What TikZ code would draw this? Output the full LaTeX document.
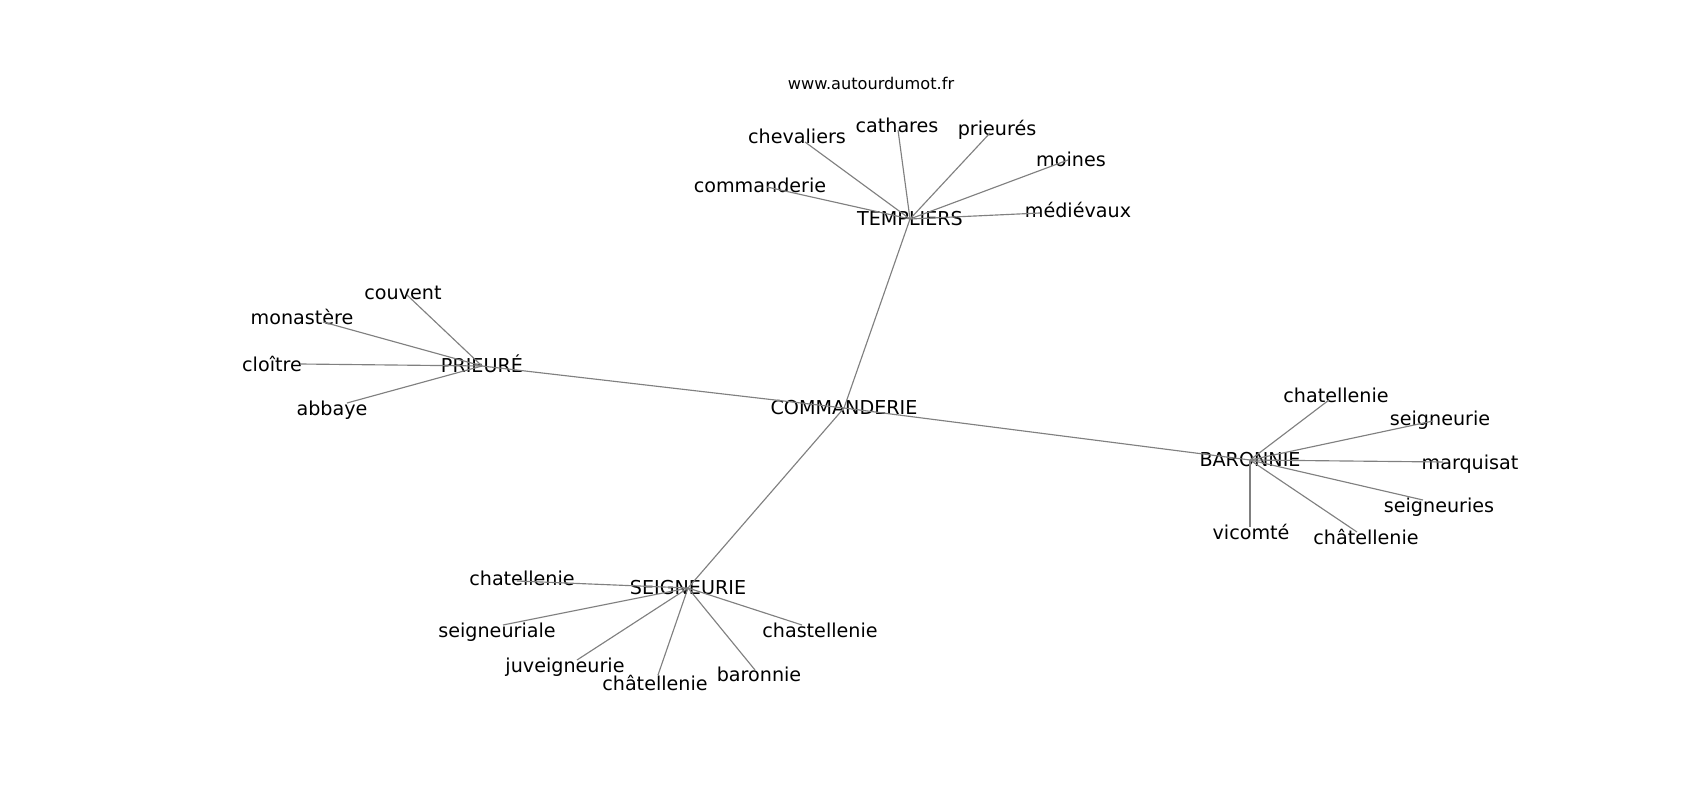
\documentclass[tikz,border=0pt]{standalone}
\usepackage{fontspec}
\setmainfont{DejaVu Sans}
\usepackage{tikz}
\tikzset{word/.style={inner sep=0pt, text height=0.75em, text depth=0pt,
    font=\fontsize{10.9}{13}\selectfont, yshift=-0.04cm},
  link/.style={draw=gray, line width=0.65pt}}

\begin{document}
\begin{tikzpicture}[x=0.02cm, y=-0.02cm]
    \useasboundingbox (0,0) rectangle (1700,800);
    \node [font=\fontsize{9.2}{11}\selectfont] (site) at (871,83) {www.autourdumot.fr};
    % the five hubs
    \node [word] (commanderie) at (844,406) {COMMANDERIE};
    \node [word] (templiers) at (910,217) {TEMPLIERS}; \node [word] (prieure) at (482,364) {PRIEURÉ};
    \node [word] (baronnie) at (1250,458) {BARONNIE}; \node [word] (seigneurie) at (688,586) {SEIGNEURIE};
    \draw [link] (commanderie.center) -- (templiers.center); \draw [link] (commanderie.center) -- (prieure.center);
    \draw [link] (commanderie.center) -- (baronnie.center); \draw [link] (commanderie.center) -- (seigneurie.center);
    % templiers
    \coordinate (t1) at (805,142); \node [word] (t1-l) at (797,135) {chevaliers};
    \coordinate (t2) at (898,130); \node [word] (t2-l) at (897,124) {cathares};
    \coordinate (t3) at (990,133); \node [word] (t3-l) at (997,127) {prieurés};
    \coordinate (t4) at (767,187); \node [word] (t4-l) at (760,184) {commanderie};
    \coordinate (t5) at (1068,160); \node [word] (t5-l) at (1071,158) {moines};
    \coordinate (t6) at (1040,213); \node [word] (t6-l) at (1078,209) {médiévaux};
    % prieure
    \coordinate (p1) at (407,295); \node [word] (p1-l) at (403,291) {couvent};
    \coordinate (p2) at (323,322); \node [word] (p2-l) at (302,316) {monastère};
    \coordinate (p3) at (300,364); \node [word] (p3-l) at (272,363) {cloître};
    \coordinate (p4) at (347,403); \node [word] (p4-l) at (332,407) {abbaye};
    % baronnie
    \coordinate (b1) at (1329,400); \node [word] (b1-l) at (1336,394) {chatellenie};
    \coordinate (b2) at (1433,421); \node [word] (b2-l) at (1440,417) {seigneurie};
    \coordinate (b3) at (1443,462); \node [word] (b3-l) at (1470,461) {marquisat};
    \coordinate (b4) at (1423,500); \node [word] (b4-l) at (1439,504) {seigneuries};
    \coordinate (b5) at (1357,532); \node [word] (b5-l) at (1366,536) {châtellenie};
    \coordinate (b6) at (1250,527); \node [word] (b6-l) at (1251,531) {vicomté};
    % seigneurie
    \coordinate (s1) at (517,581); \node [word] (s1-l) at (522,577) {chatellenie};
    \coordinate (s2) at (503,625); \node [word] (s2-l) at (497,629) {seigneuriale};
    \coordinate (s3) at (577,660); \node [word] (s3-l) at (565,664) {juveigneurie};
    \coordinate (s4) at (658,675); \node [word] (s4-l) at (655,682) {châtellenie};
    \coordinate (s5) at (755,670); \node [word] (s5-l) at (759,673) {baronnie};
    \coordinate (s6) at (802,625); \node [word] (s6-l) at (820,629) {chastellenie};
    \foreach \i in {1,...,6} {\draw [link] (templiers.center) -- (t\i);
      \draw [link] (baronnie.center) -- (b\i); \draw [link] (seigneurie.center) -- (s\i);}
    \foreach \i in {1,...,4} \draw [link] (prieure.center) -- (p\i);
\end{tikzpicture}
\end{document}
